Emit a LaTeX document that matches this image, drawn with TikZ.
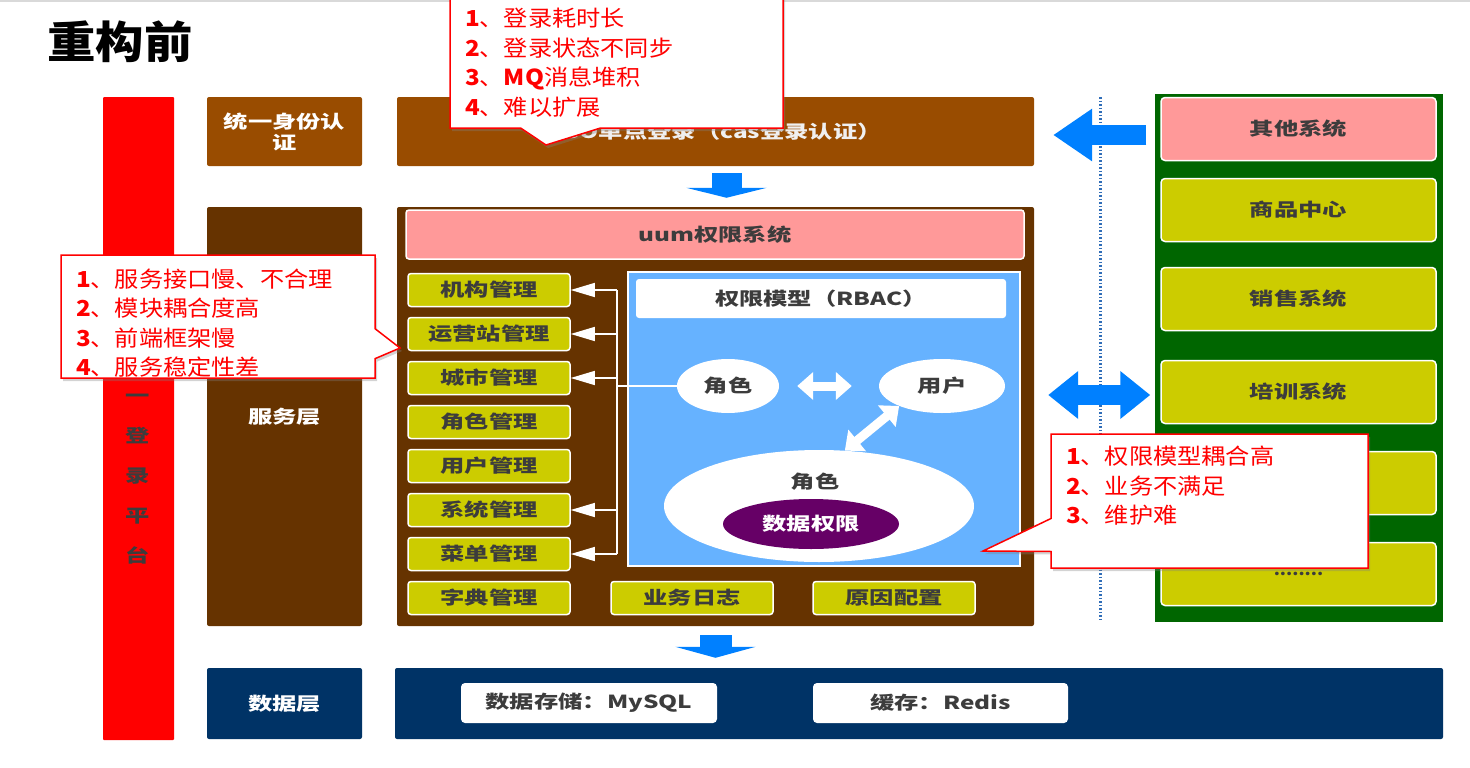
\documentclass[tikz,border=0pt]{standalone}
\usepackage{fontspec}
\setmainfont{Noto Sans CJK SC}[FakeStretch=1.1]
\newfontfamily\widefont{Noto Sans CJK SC}[FakeStretch=1.35]
\usetikzlibrary{positioning,shapes,shapes.callouts,shadows,arrows.meta}
\definecolor{ssobrown}{HTML}{994C00}
\definecolor{svcbrown}{HTML}{663300}
\definecolor{itemyellow}{HTML}{CCCC00}
\definecolor{uumpink}{HTML}{FF9999}
\definecolor{rbacblue}{HTML}{66B2FF}
\definecolor{flowblue}{HTML}{0080FF}
\definecolor{sysgreen}{HTML}{006600}
\definecolor{datanavy}{HTML}{003366}
\definecolor{permpurple}{HTML}{660066}
\definecolor{textgray}{HTML}{3C3C3C}
\definecolor{dotblue}{HTML}{2F6DB8}
\begin{document}
\begin{tikzpicture}[x=1pt,y=-1pt,node distance=44pt,
layer/.style={
rectangle,
rounded corners=2pt,
inner sep=0pt,
text=white,
align=center,
font=\widefont\bfseries\fontsize{18}{21}\selectfont
},
item/.style={
rectangle,
rounded corners=3pt,
draw=white,
line width=1.5pt,
fill=itemyellow,
inner sep=0pt,
minimum width=162pt,
minimum height=33pt,
text=textgray,
font=\widefont\bfseries\fontsize{18}{21}\selectfont
},
sysbox/.style={item,rounded corners=4pt,minimum width=275pt,minimum height=63pt},
plate/.style={rectangle,rounded corners=4pt,fill=white,inner sep=0pt,text=textgray,
font=\widefont\bfseries\fontsize{18}{21}\selectfont},
bubble/.style={ellipse,fill=white,inner sep=0pt,text=textgray,
font=\widefont\bfseries\fontsize{18}{21}\selectfont},
note/.style={
rectangle callout,
draw=red,
line width=1.5pt,
fill=white,
text=red,
align=left,
inner sep=0pt,
inner xsep=15pt,
font=\fontsize{22}{29.5}\selectfont,
drop shadow={shadow xshift=2pt,shadow yshift=-3pt,opacity=0.35}
},
flow/.style={draw=flowblue,line width=30pt,-{Triangle[length=10pt,width=80pt]}},
link/.style={draw=white,line width=1.3pt,-{Triangle[length=24pt,width=14pt]}},
swap/.style={draw=white,line width=9pt,{Triangle[length=16pt,width=27pt]}-{Triangle[length=16pt,width=27pt]}},
]
\useasboundingbox (0,0) rectangle (1470,768);
\draw[black!15,line width=1.5pt] (0,1) -- (1470,1);
\node (title) [font=\bfseries\fontsize{44}{48}\selectfont] at (120,42) {重构前};

\node (platform) [layer,fill=red,rounded corners=1pt,minimum width=71pt,minimum height=643pt] at (138.5,418.5) {};
\node (platformtext) [text=textgray,align=center,font=\widefont\bfseries\fontsize{18}{40}\selectfont] at (138,479) {一\\登\\录\\平\\台};

\node (idauth) [layer,fill=ssobrown,minimum width=155pt,minimum height=69pt] at (284.5,131.5) {统一身份认\\证};
\node (sso) [layer,fill=ssobrown,minimum width=637pt,minimum height=69pt,text=white!94!black] at (715.5,131.5) {SSO单点登录（cas登录认证）};

\node (svclabel) [layer,fill=svcbrown,minimum width=155pt,minimum height=419pt] at (284.5,416.5) {服务层};
\node (svc) [layer,fill=svcbrown,minimum width=637pt,minimum height=419pt] at (715.5,416.5) {};
\node (uum) [item,fill=uumpink,minimum width=618pt,minimum height=49pt] at (715,234.5) {uum权限系统};

\node (org) [item] at (489,290) {机构管理};
\node (ops) [item,below of=org] {运营站管理};
\node (city) [item,below of=ops] {城市管理};
\node (rolem) [item,below of=city] {角色管理};
\node (userm) [item,below of=rolem] {用户管理};
\node (sysm) [item,below of=userm] {系统管理};
\node (menu) [item,below of=sysm] {菜单管理};
\node (dict) [item,below of=menu] {字典管理};
\node (bizlog) [item,node distance=203pt,right of=dict] {业务日志};
\node (reason) [item,node distance=202pt,right of=bizlog] {原因配置};

\node (rbac) [rectangle,fill=rbacblue,draw=white,line width=1.5pt,minimum width=392pt,minimum height=294pt] at (824,419) {};
\node (rbactitle) [plate,rounded corners=3pt,minimum width=370pt,minimum height=39pt] at (821,298.5) {权限模型（RBAC）};
\node (role) [bubble,minimum width=102pt,minimum height=54pt] at (728,386) {角色};
\node (user) [bubble,minimum width=126pt,minimum height=54pt] at (942,386) {用户};
\node (datarole) [bubble,minimum width=310pt,minimum height=112pt] at (819,506) {};
\node (datarolename) [text=textgray,font=\widefont\bfseries\fontsize{18}{21}\selectfont] at (815,482) {角色};
\node (perm) [bubble,fill=permpurple,text=white,minimum width=176pt,minimum height=50pt] at (811,524) {数据权限};
\draw[swap,shorten <=18pt,shorten >=27pt] (role.east) -- (user.west);
\draw[swap] (datarole.65) -- (user.205);

\coordinate (spine) at (617,386);
\draw[white,line width=1.3pt] (role.west) -- (spine);
\draw[white,line width=1.3pt] (spine |- org.east) -- (spine |- menu.east);
\draw[link] (spine |- org.east) -- (org.east);
\draw[link] (spine |- ops.east) -- (ops.east);
\draw[link] (spine |- city.east) -- (city.east);
\draw[link] (spine |- sysm.east) -- (sysm.east);
\draw[link] (spine |- menu.east) -- (menu.east);

\node (datalabel) [layer,fill=datanavy,minimum width=155pt,minimum height=71pt] at (284.5,703.5) {数据层};
\node (datapanel) [layer,fill=datanavy,minimum width=1048pt,minimum height=71pt] at (919,703.5) {};
\node (mysql) [plate,minimum width=256pt,minimum height=40pt] at (589,703) {数据存储：MySQL};
\node (redis) [plate,minimum width=255pt,minimum height=40pt] at (940.5,703) {缓存：Redis};

\node (syspanel) [rectangle,fill=sysgreen,minimum width=288pt,minimum height=528pt] at (1299,358) {};
\node (others) [sysbox,fill=uumpink] at (1298.5,129) {其他系统};
\node (goods) [sysbox] at (1298.5,210) {商品中心};
\node (sales) [sysbox] at (1298.5,299) {销售系统};
\node (train) [sysbox] at (1298.5,392) {培训系统};
\node (hidden) [sysbox] at (1298.5,483) {};
\node (more) [sysbox,font=\bfseries\fontsize{16}{18}\selectfont] at (1298.5,574) {........};

\coordinate (fencetop) at (1100,97);
\coordinate (fencebot) at (1100,622);
\draw[dotblue,line width=3pt,dash pattern=on 1.5pt off 2pt] (fencetop) -- (fencebot);

\draw[flow,shorten <=7pt,shorten >=9pt] ([xshift=11pt]sso.south) -- ([xshift=11pt]svc.north);
\draw[flow,line width=32pt,-{Triangle[length=11pt,width=80pt]},shorten <=9pt,shorten >=10pt] (svc.south) -- (svc.south |- datapanel.north);
\draw[flow,line width=20pt,-{Triangle[length=39pt,width=50pt]},shorten <=14pt,shorten >=19pt] ([yshift=-6pt]others.west) -- ([yshift=-3.5pt]sso.east);
\draw[flow,line width=20pt,{Triangle[length=30pt,width=46pt]}-{Triangle[length=30pt,width=46pt]},shorten <=14pt,shorten >=10pt] ([yshift=-3pt]svc.east |- train.west) -- ([yshift=-3pt]train.west);

\node (loginnote) [note,minimum width=333pt,minimum height=131pt,text width=303pt,callout absolute pointer={(546,145)},callout pointer width=80pt] at (616.5,62.5) {\textbf{1}、登录耗时长\\\textbf{2}、登录状态不同步\\\textbf{3}、\textbf{MQ}消息堆积\\\textbf{4}、难以扩展};
\node (svcnote) [note,minimum width=314pt,minimum height=123pt,text width=284pt,callout absolute pointer={(400,348)},callout pointer width=30pt] at (218,316.5) {\rule{0pt}{32pt}\textbf{1}、服务接口慢、不合理\\\textbf{2}、模块耦合度高\\\textbf{3}、前端框架慢\\\textbf{4}、服务稳定性差};
\node (rbacnote) [note,minimum width=317pt,minimum height=134pt,text width=287pt,callout absolute pointer={(983,551)},callout pointer width=33pt] at (1209.5,501) {\textbf{1}、权限模型耦合高\\\textbf{2}、业务不满足\\\textbf{3}、维护难\rule[-32pt]{0pt}{32pt}};
\end{tikzpicture}
\end{document}
